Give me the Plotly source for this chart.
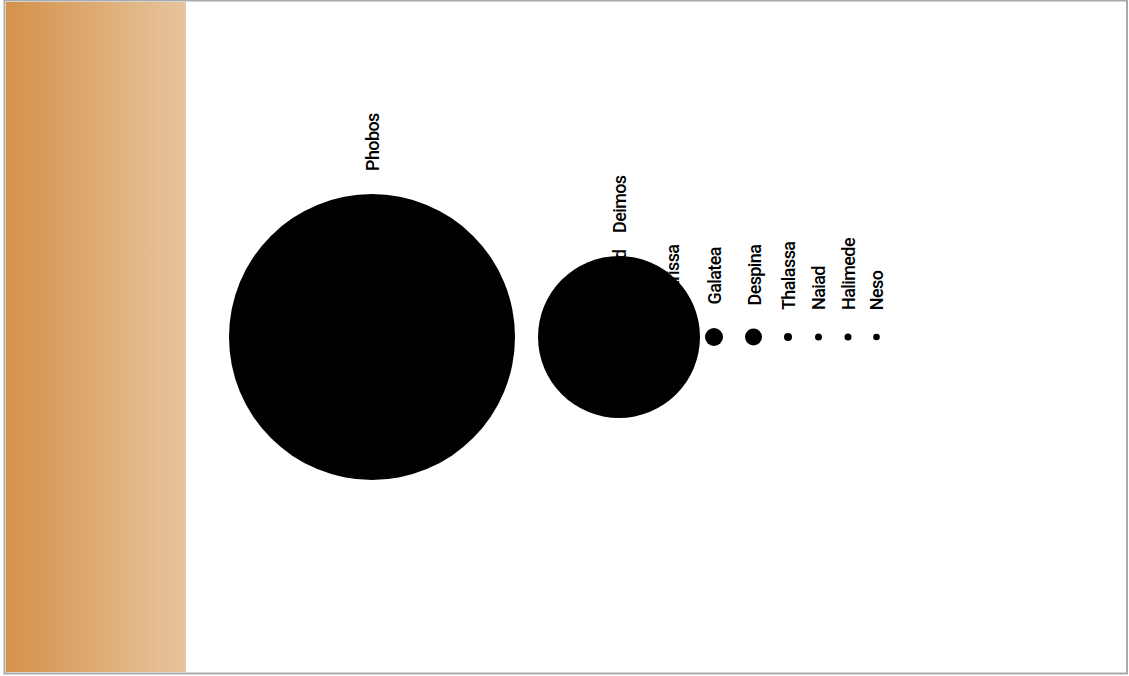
import plotly.graph_objects as go

# ---- data ----
moons = ["Nereid", "Larissa", "Phobos", "Deimos", "Galatea", "Despina",
         "Thalassa", "Naiad", "Halimede", "Neso"]
position = [620, 673, 372, 619, 714, 753.5, 788, 818.5, 848, 876.5]
radius = [17, 10, 143, 81, 9, 8.5, 4, 3.5, 3.5, 3.3]
hidden = ["Nereid", "Larissa"]  # labels that sit behind the Deimos disc

W, H = 1129, 676
FONT = "Roboto, Lato, sans-serif"
SPAN = '<span style="letter-spacing:-0.6px">{}</span>'

fig = go.Figure()

# gradient panel on the left
fig.add_trace(go.Scatter(
    x=[6, 186, 186, 6, 6], y=[335, 335, -335, -335, 335],
    mode="lines", fill="toself", line=dict(width=0),
    fillgradient=dict(type="horizontal",
                      colorscale=[[0, "#d4924a"], [1, "#e7c59d"]]),
    hoverinfo="skip", showlegend=False))

# moon discs
fig.add_trace(go.Scatter(
    x=position, y=[0] * len(moons), mode="markers",
    marker=dict(size=[2 * r for r in radius], sizemode="diameter",
                color="black", line=dict(width=0), opacity=1),
    hoverinfo="skip", showlegend=False, cliponaxis=False))

# visible labels
for name, x, r in zip(moons, position, radius):
    if name in hidden:
        continue
    fig.add_annotation(x=x, y=0, xref="x", yref="y", text=SPAN.format(name),
                       showarrow=False, textangle=-90,
                       xanchor="center", yanchor="bottom", yshift=r + 21,
                       font=dict(family=FONT, size=18, color="black",
                                 weight=500))

# labels that are drawn below the discs (axis tick labels under traces)
hid_x = [p for n, p in zip(moons, position) if n in hidden]
fig.update_xaxes(range=[0, W], showgrid=False, zeroline=False, showline=False,
                 anchor="free", position=1 - 299 / H, side="top",
                 tickmode="array", tickvals=hid_x,
                 ticktext=[SPAN.format(n) for n in hidden],
                 tickangle=-90, ticks="", ticklen=0, layer="below traces",
                 tickfont=dict(family=FONT, size=18, color="black", weight=500),
                 fixedrange=True)
fig.update_yaxes(range=[-(H - 337), 337], visible=False, fixedrange=True)

# outer frame
fig.add_shape(type="rect", xref="paper", yref="paper",
              x0=4.5 / W, x1=1127 / W, y0=1 - 673.5 / H, y1=1 - 0.5 / H,
              line=dict(color="#aaaaaa", width=2), layer="above")

fig.update_layout(width=W, height=H, margin=dict(l=0, r=0, t=0, b=0, pad=0),
                  plot_bgcolor="white", paper_bgcolor="white",
                  hovermode=False, showlegend=False)

fig.write_html("out.html", config={"displayModeBar": False},
               post_script="document.body.style.margin='0px';"
                           "document.body.style.overflow='hidden';")
